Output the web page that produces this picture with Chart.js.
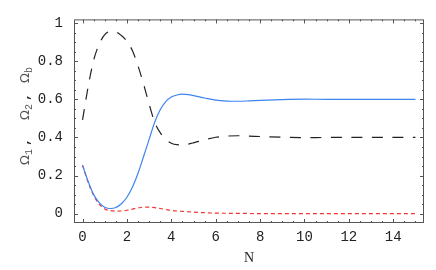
<!DOCTYPE html>
<html>
<head>
<meta charset="utf-8">
<script src="https://cdn.jsdelivr.net/npm/chart.js@4/dist/chart.umd.min.js"></script>
<style>
  html, body { margin: 0; padding: 0; background: #fff; }
  #wrap { width: 436px; height: 270px; }
</style>
</head>
<body>
<div id="wrap"><canvas id="chart" width="436" height="270"></canvas></div>
<script>
// valores
const nValues = [0, 0.25, 0.5, 0.75, 1, 1.25, 1.5, 1.75, 2, 2.25, 2.5, 2.75, 3, 3.25, 3.5, 3.75,
  4, 4.25, 4.5, 4.75, 5, 5.5, 6, 6.5, 7, 7.5, 8, 9, 10, 11, 12, 13, 14, 15];
const omega1 = [0.254, 0.17, 0.10, 0.058, 0.034, 0.027, 0.032, 0.052, 0.086, 0.14, 0.212, 0.30, 0.39, 0.48, 0.545,
  0.588, 0.612, 0.623, 0.627, 0.625, 0.62, 0.607, 0.596, 0.591, 0.590, 0.592, 0.595, 0.599, 0.601, 0.600, 0.600, 0.600, 0.600, 0.600];
const omega2 = [0.254, 0.165, 0.095, 0.05, 0.025, 0.016, 0.013, 0.014, 0.018, 0.024, 0.030, 0.034, 0.034, 0.032, 0.027, 0.022,
  0.017, 0.014, 0.012, 0.010, 0.008, 0.005, 0.003, 0.002, 0.001, 0.001, 0, 0, 0, 0, 0, 0, 0, 0];
const omegaB = [0.492, 0.665, 0.805, 0.89, 0.94, 0.956, 0.954, 0.935, 0.905, 0.855, 0.775, 0.68, 0.575, 0.48, 0.425, 0.39,
  0.37, 0.362, 0.361, 0.365, 0.372, 0.388, 0.401, 0.407, 0.409, 0.407, 0.405, 0.401, 0.399, 0.400, 0.400, 0.400, 0.400, 0.400];
const xTicks = [0, 2, 4, 6, 8, 10, 12, 14];
const yTicks = [0, 0.2, 0.4, 0.6, 0.8, 1];

const pts = arr => arr.map((v, i) => ({ x: nValues[i], y: v }));

// moldura com ticks para dentro + titulos dos eixos
const frameTicks = {
    id: 'frameTicks',
    afterDatasetsDraw(chart) {
        const { ctx, chartArea: a, scales: { x, y } } = chart;
        ctx.save();
        ctx.strokeStyle = '#555';
        ctx.lineWidth = 1;
        ctx.strokeRect(a.left + 0.5, a.top + 0.5, a.right - a.left - 1, a.bottom - a.top - 1);
        ctx.beginPath();
        for (let v = 0; v <= 15.001; v += 0.5) {
            const px = Math.round(x.getPixelForValue(v)) + 0.5;
            const len = xTicks.includes(v) ? 4 : 2;
            ctx.moveTo(px, a.bottom); ctx.lineTo(px, a.bottom - len);
            ctx.moveTo(px, a.top); ctx.lineTo(px, a.top + len);
        }
        for (let i = 0; i <= 20; i++) {
            const v = i * 0.05;
            const py = Math.round(y.getPixelForValue(v)) + 0.5;
            const len = i % 4 === 0 ? 4 : 2;
            ctx.moveTo(a.left, py); ctx.lineTo(a.left + len, py);
            ctx.moveTo(a.right, py); ctx.lineTo(a.right - len, py);
        }
        ctx.stroke();

        // titulo X
        ctx.fillStyle = '#222';
        ctx.font = '14px "Liberation Serif"';
        ctx.textAlign = 'center';
        ctx.textBaseline = 'middle';
        ctx.fillText('N', (a.left + a.right) / 2, 258);

        // titulo Y (rotacionado)
        ctx.translate(25, 165);
        ctx.rotate(-Math.PI / 2);
        ctx.textAlign = 'left';
        ctx.textBaseline = 'alphabetic';
        const parts = [['1', 0], ['2', 45], ['b', 82]];
        parts.forEach(([sub, off]) => {
            ctx.fillStyle = '#555';
            ctx.font = '13px "DejaVu Sans"';
            ctx.fillText('Ω', off, 4);
            const w = ctx.measureText('Ω').width;
            ctx.font = '10px "Liberation Mono"';
            ctx.fillText(sub, off + w, 7);
            if (sub !== 'b') {
                ctx.fillStyle = '#222';
                ctx.font = 'bold 13px "Liberation Mono"';
                ctx.fillText(',', off + 19, 4);
            }
        });
        ctx.restore();
    }
};

const fmt = v => String(+(+v).toFixed(2));

new Chart(document.getElementById('chart'), {
    type: 'line',
    data: {
        datasets: [
            { label: 'Ωb', data: pts(omegaB), borderColor: '#222', borderWidth: 1.2, borderDash: [11, 9.5] },
            { label: 'Ω1', data: pts(omega1), borderColor: '#3d85f0', borderWidth: 1.2 },
            { label: 'Ω2', data: pts(omega2), borderColor: '#f03535', borderWidth: 1.2, borderDash: [4, 3] }
        ]
    },
    options: {
        responsive: false,
        animation: false,
        layout: { padding: { left: 0, right: 12, top: 6, bottom: 0 } },
        elements: {
            point: { radius: 0 },
            line: { cubicInterpolationMode: 'monotone', fill: false }
        },
        plugins: { legend: { display: false }, tooltip: { enabled: false } },
        scales: {
            x: {
                type: 'linear', min: -0.385, max: 15.385,
                grid: { display: false, drawTicks: false },
                border: { display: false },
                afterBuildTicks: s => { s.ticks = xTicks.map(v => ({ value: v })); },
                afterFit: s => { s.height = 47; },
                ticks: { padding: 6, color: '#222', font: { family: 'Liberation Mono', size: 14 }, maxRotation: 0, callback: fmt }
            },
            y: {
                type: 'linear', min: -0.049, max: 1.0197,
                grid: { display: false, drawTicks: false },
                border: { display: false },
                afterBuildTicks: s => { s.ticks = yTicks.map(v => ({ value: v })); },
                afterFit: s => { s.width = 74; },
                ticks: { padding: 11, color: '#222', font: { family: 'Liberation Mono', size: 14 }, callback: fmt }
            }
        }
    },
    plugins: [frameTicks]
});
</script>
</body>
</html>
